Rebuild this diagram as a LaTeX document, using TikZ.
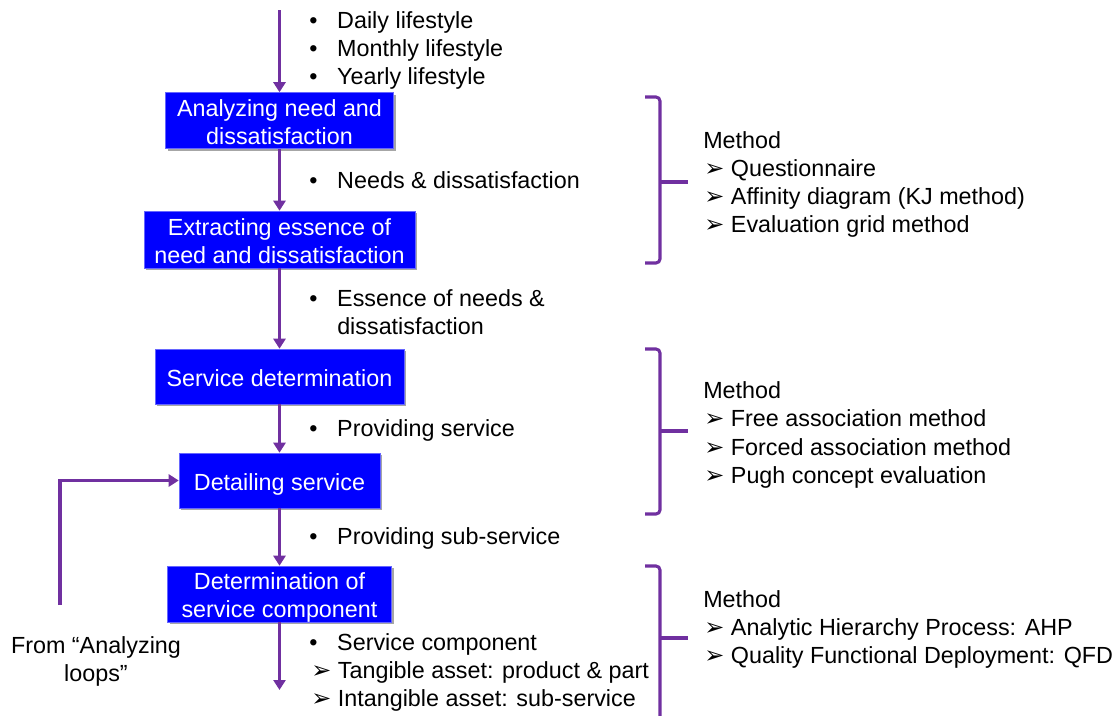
\documentclass[tikz,border=0pt]{standalone}
\usepackage{fontspec}
\setmainfont{Liberation Sans}
\newfontfamily\symfont{DejaVu Sans}
\usetikzlibrary{arrows.meta,shadows}
\definecolor{flowpurple}{RGB}{112,48,160}
\definecolor{boxblue}{RGB}{0,0,255}
% list markers: round bullet and arrowhead bullet
\newcommand{\bul}{\makebox[21pt][l]{•}}
\newcommand{\arr}{\makebox[20pt][l]{{\symfont\fontsize{18}{18}\selectfont ➢}}}
% centred stage caption, set slightly low in its box
\newcommand{\stg}[1]{\raisebox{-3pt}[\height][\depth]{\begin{tabular}{@{}c@{}}#1\end{tabular}}}
\begin{document}
\begin{tikzpicture}[x=0.75pt,y=-0.75pt,
  font=\fontsize{17.5}{21}\selectfont,
  stage/.style={draw=blue!60!white, line width=0.4pt, fill=boxblue, text=white,
    inner sep=0pt,
    drop shadow={shadow xshift=1.5pt,shadow yshift=-1.5pt,fill=black,opacity=0.35}},
  flow/.style={draw=flowpurple, line width=2.3pt, -{Triangle[width=9pt,length=7.5pt]}},
  brace/.style={draw=flowpurple, line width=2.3pt, rounded corners=3pt},
  txt/.style={anchor=base west, inner sep=0pt}
]
\useasboundingbox (0,0) rectangle (1118,715);

% process stages
\node[stage, minimum width=171pt, minimum height=41.25pt] (analyze) at (279.5,120.5) {\stg{Analyzing need and\\dissatisfaction}};
\node[stage, minimum width=203.25pt, minimum height=42.75pt] (extract) at (279.5,239.5) {\stg{Extracting essence of\\need and dissatisfaction}};
\node[stage, minimum width=186.75pt, minimum height=41.25pt] (service) at (279.5,376.5) {\stg{Service determination}};
\node[stage, minimum width=150.75pt, minimum height=41.25pt] (detail) at (279.5,480.5) {\stg{Detailing service}};
\node[stage, minimum width=168pt, minimum height=42pt] (component) at (279.5,594) {\stg{Determination of\\service component}};

% flow arrows
\coordinate (start) at (279.5,10);
\coordinate (outflow) at (279.5,690);
\coordinate (loopfoot) at (60,605);
\draw[flow] (start) -- (analyze);
\draw[flow] (analyze) -- (extract);
\draw[flow] (extract) -- (service);
\draw[flow] (service) -- (detail);
\draw[flow] (detail) -- (component);
\draw[flow] (component) -- (outflow);
\draw[flow] (loopfoot) -- (loopfoot |- detail.west) -- (detail.west);

\node[align=center, inner sep=0pt] (loopsrc) at (96,661) {From “Analyzing\\loops”};

% flow contents
\node[txt] (in1) at (309,28) {\bul Daily lifestyle};
\node[txt] (in2) at (309,56) {\bul Monthly lifestyle};
\node[txt] (in3) at (309,84) {\bul Yearly lifestyle};
\node[txt] (needs) at (309,188) {\bul Needs \& dissatisfaction};
\node[txt] (ess1) at (309,306) {\bul Essence of needs \&};
\node[txt] (ess2) at (337,334) {dissatisfaction};
\node[txt] (prov) at (309,436) {\bul Providing service};
\node[txt] (sub) at (309,544) {\bul Providing sub-service};
\node[txt] (comp1) at (309,650) {\bul Service component};
\node[txt] (comp2) at (311,678) {\arr Tangible asset: product \& part};
\node[txt] (comp3) at (311,706) {\arr Intangible asset: sub-service};

% method brackets
\draw[brace] (645,97) -- (660,97) -- (660,263) -- (645,263);
\draw[brace] (660,182) -- (688,182);
\draw[brace] (645,349) -- (660,349) -- (660,514) -- (645,514);
\draw[brace] (660,431) -- (688,431);
\draw[brace] (645,566) -- (660,566) -- (660,720);
\draw[brace] (660,638) -- (688,638);

% methods
\node[txt] (m1) at (703,148) {Method};
\node[txt] (m1a) at (704,176) {\arr Questionnaire};
\node[txt] (m1b) at (704,204) {\arr Affinity diagram (KJ method)};
\node[txt] (m1c) at (704,232) {\arr Evaluation grid method};
\node[txt] (m2) at (703,398) {Method};
\node[txt] (m2a) at (704,426) {\arr Free association method};
\node[txt] (m2b) at (704,455) {\arr Forced association method};
\node[txt] (m2c) at (704,483) {\arr Pugh concept evaluation};
\node[txt] (m3) at (703,607) {Method};
\node[txt] (m3a) at (704,635) {\arr Analytic Hierarchy Process: AHP};
\node[txt] (m3b) at (704,663) {\arr Quality Functional Deployment: QFD};
\end{tikzpicture}
\end{document}
